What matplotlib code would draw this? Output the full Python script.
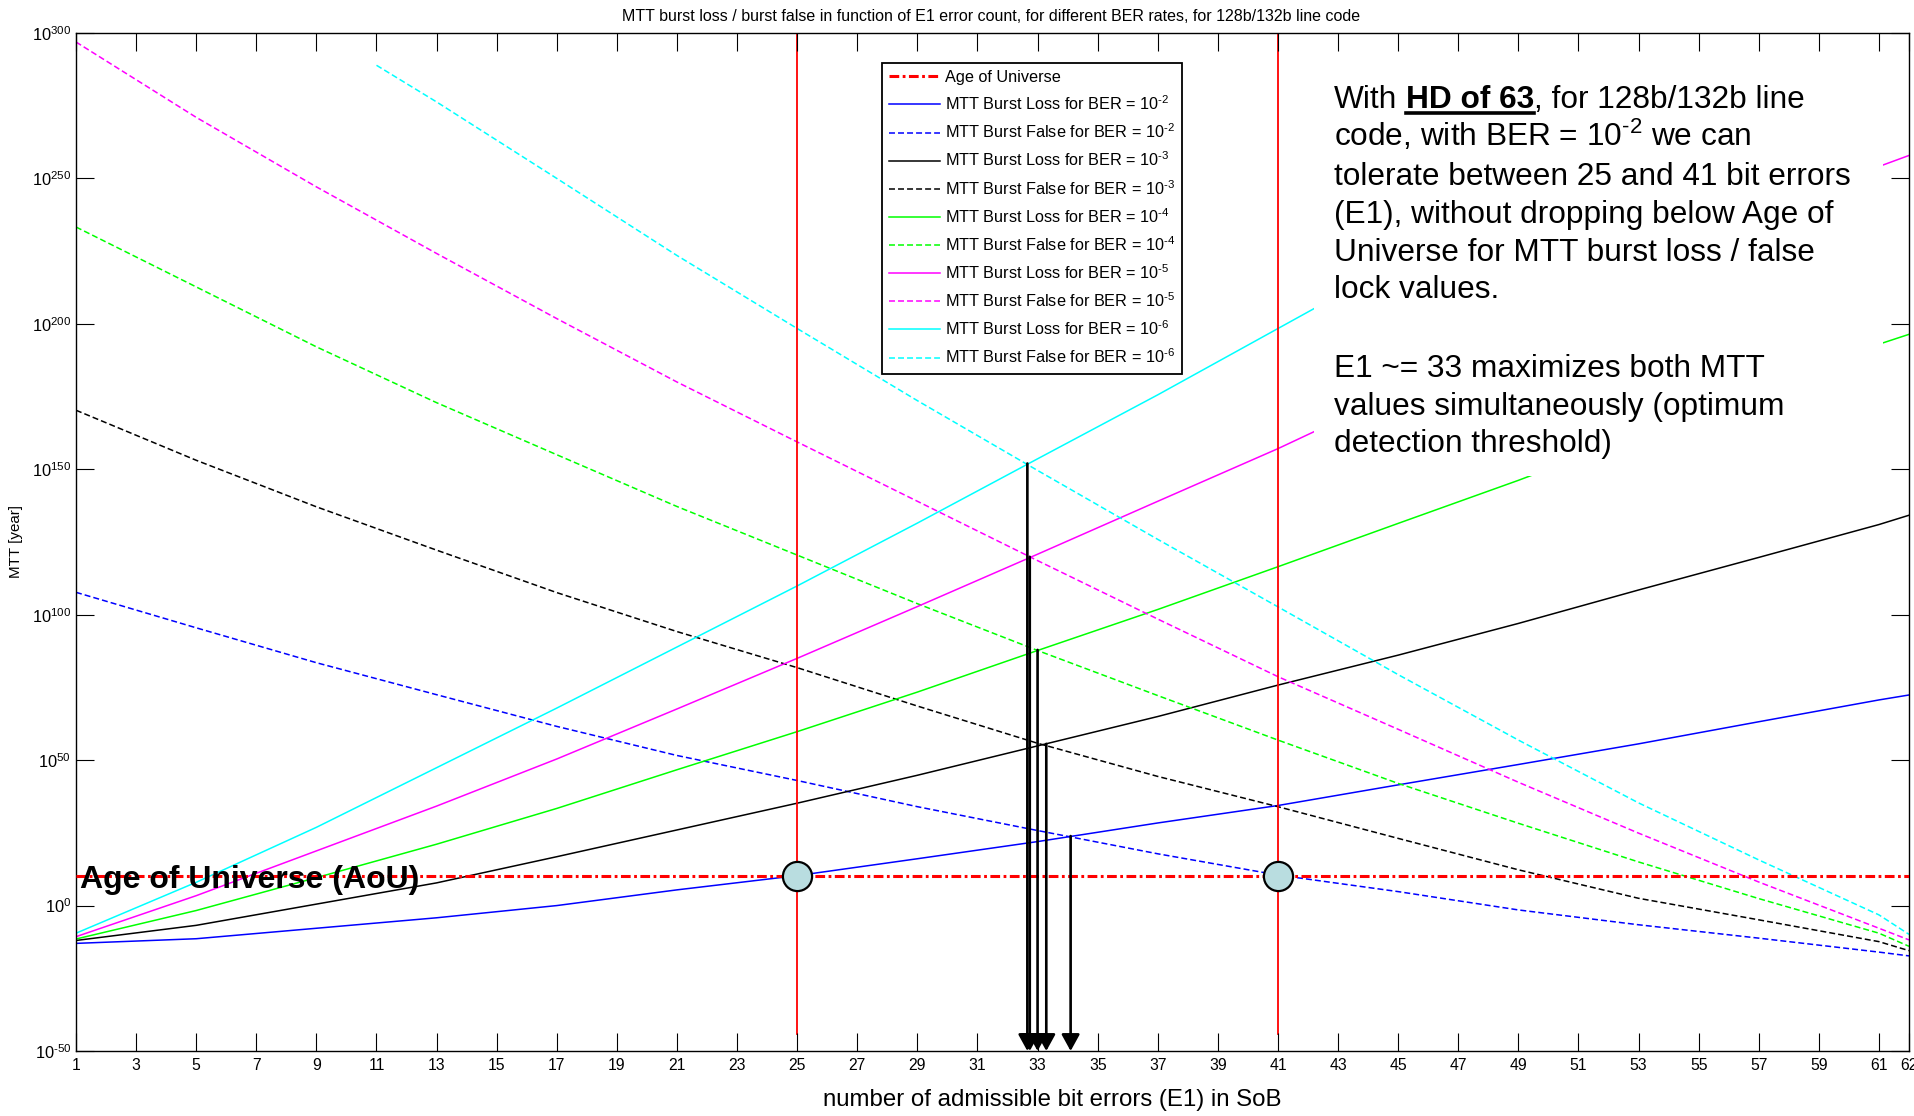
import numpy as np
import matplotlib
matplotlib.use('Agg')
import matplotlib.pyplot as plt
from matplotlib.patches import Rectangle
from matplotlib.lines import Line2D

plt.rcParams['font.family'] = ['Liberation Sans', 'DejaVu Sans']
plt.rcParams['mathtext.fontset'] = 'custom'
plt.rcParams['mathtext.rm'] = 'Liberation Sans'
plt.rcParams['mathtext.it'] = 'Liberation Sans:italic'
plt.rcParams['mathtext.bf'] = 'Liberation Sans:bold'
plt.rcParams['lines.scale_dashes'] = False

W, H = 1915, 1116

# exponents (log10 of MTT in years)
x = [1, 5, 9, 13, 17, 21, 25, 29, 33, 37, 41, 45, 49, 53, 57, 61, 62]
loss_2 = [-13.0, -11.4, -7.8, -4.2, 0.0, 5.4, 10.3, 16.1, 22.0, 28.4, 34.4, 41.5, 48.5, 55.6, 63.2, 70.7, 72.4]
false_2 = [107.7, 95.5, 83.5, 72.5, 61.6, 51.6, 43.0, 34.0, 25.8, 17.8, 10.5, 4.8, -1.5, -6.6, -11.2, -16.0, -17.3]
loss_3 = [-12.0, -6.8, 0.5, 7.8, 16.8, 26.0, 35.2, 44.8, 54.9, 65.0, 75.8, 86.1, 97.0, 108.5, 119.7, 131.0, 134.2]
false_3 = [170.3, 153.1, 137.1, 122.2, 107.6, 94.2, 81.8, 68.6, 55.8, 44.4, 34.0, 23.1, 12.3, 2.5, -4.9, -12.4, -15.5]
loss_4 = [-11.5, -1.7, 9.6, 21.1, 33.4, 46.7, 59.8, 73.4, 87.7, 101.8, 116.5, 131.4, 146.2, 161.7, 177.3, 193.0, 196.4]
false_4 = [233.3, 212.7, 192.1, 172.9, 155.0, 137.2, 120.5, 103.8, 87.7, 72.2, 56.9, 42.0, 28.3, 15.0, 2.4, -9.5, -14.0]
loss_5 = [-10.7, 3.4, 18.8, 34.2, 50.4, 67.6, 85.0, 102.8, 120.8, 139.0, 157.1, 176.5, 195.9, 215.3, 234.7, 254.1, 257.9]
false_5 = [296.9, 271.0, 247.1, 224.2, 201.8, 180.0, 159.4, 139.0, 118.6, 98.5, 78.7, 60.6, 42.4, 24.9, 8.1, -7.8, -11.8]
loss_6 = [-9.5, 8.0, 26.9, 47.4, 67.9, 88.9, 109.9, 131.5, 153.6, 175.6, 198.4, 221.2, 244.0, 266.8, 289.6, 305.0, np.nan]
x_false_6 = [11, 13, 17, 21, 25, 29, 33, 37, 41, 45, 49, 53, 57, 61, 62]
false_6 = [288.9, 276.3, 250.0, 223.5, 198.4, 173.6, 149.6, 125.9, 102.7, 79.4, 56.9, 35.3, 15.7, -3.2, -9.9]

age_of_universe = 1.38e10
bounds = [25, 41]
arrow_x = [32.66, 32.74, 33.0, 33.29, 34.10]
arrow_top = [152.0, 119.9, 87.9, 55.6, 23.9]

bers = ['-2', '-3', '-4', '-5', '-6']
colors = ['#0000ff', '#000000', '#00ff00', '#ff00ff', '#00ffff']
loss = [loss_2, loss_3, loss_4, loss_5, loss_6]
false = [(x, false_2), (x, false_3), (x, false_4), (x, false_5), (x_false_6, false_6)]

fig = plt.figure(figsize=(W / 100, H / 100), dpi=100)
ax = fig.add_axes([76 / W, 1 - 1051 / H, 1833 / W, 1018 / H])
ax.set_yscale('log')
ax.set_axisbelow(False)

ax.plot([1, 62], [age_of_universe, age_of_universe], color='#ff0000', lw=2.2,
        dashes=(7, 2.5, 2, 2.5), label='Age of Universe', zorder=3)
for b, c, lo, (xf, fa) in zip(bers, colors, loss, false):
    ax.plot(x, 10.0 ** np.array(lo), color=c, lw=1.1,
            label=r'MTT Burst Loss for BER = 10$^{\text{%s}}$' % b)
    ax.plot(xf, 10.0 ** np.array(fa), color=c, lw=1.1, dashes=(4.3, 2.2),
            label=r'MTT Burst False for BER = 10$^{\text{%s}}$' % b)

for b in bounds:
    ax.plot([b, b], [1e-44, 1e300], color='#ff0000', lw=1.3, zorder=2.2)
ax.plot(bounds, [age_of_universe] * 2, 'o', ms=21, mfc='#b9dde0', mec='black',
        mew=1.6, zorder=4)

for ax_x, top in zip(arrow_x, arrow_top):
    ax.annotate('', xy=(ax_x, 1e-50), xytext=(ax_x, 10.0 ** top),
                arrowprops=dict(arrowstyle='-|>,head_length=1.0,head_width=0.55',
                                mutation_scale=10, lw=1.9, color='black',
                                shrinkA=0, shrinkB=0),
                annotation_clip=False, zorder=4)

ax.annotate('Age of Universe (AoU)', xy=(1, age_of_universe), xytext=(3, -8.6),
            textcoords='offset points', fontsize=23, fontweight='bold',
            va='baseline', ha='left', zorder=6)

ax.set_xlim(1, 62)
ax.set_ylim(1e-50, 1e300)
xt = list(range(1, 62, 2)) + [62]
ax.set_xticks(xt)
ax.set_xticklabels([str(v) for v in xt])
yt = list(range(-50, 301, 50))
ax.set_yticks([10.0 ** v for v in yt])
ax.set_yticklabels([r'$10^{\text{%d}}$' % v for v in yt])
ax.minorticks_off()
ax.tick_params(direction='in', length=13, width=0.8, top=True, right=True)
ax.tick_params(axis='x', labelsize=11.3, pad=5)
ax.tick_params(axis='y', labelsize=11.8, pad=3.5)
for s in ax.spines.values():
    s.set_linewidth(1.0)

ax.set_xlabel('number of admissible bit errors (E1) in SoB', fontsize=17.3)
ax.xaxis.set_label_coords((1052 - 76) / 1833, (1051 - 1100) / 1018)
ax.xaxis.label.set_va('center')
ax.set_ylabel('MTT [year]', fontsize=10.9)
ax.yaxis.set_label_coords((16 - 76) / 1833, 0.5)
ax.yaxis.label.set_va('center')

fig.text(991 / W, 1 - 20.7 / H,
         'MTT burst loss / burst false in function of E1 error count, for different BER rates, for 128b/132b line code',
         fontsize=11.5, ha='center', va='baseline')

leg = ax.legend(loc='upper left', bbox_to_anchor=(882 / W, 1 - 62.7 / H),
                bbox_transform=fig.transFigure, borderaxespad=0, fontsize=11.7,
                handlelength=3.1, handletextpad=0.3, labelspacing=0.58,
                borderpad=0.45, fancybox=False, framealpha=1, edgecolor='black')
leg.get_frame().set_linewidth(1.3)
leg.set_zorder(6)

# white note box over the upper right of the plot (below the tick marks)
ax.add_patch(Rectangle((1314 / W, 1 - 476 / H), 569 / W, 442 / H,
                       transform=fig.transFigure, facecolor='white',
                       edgecolor='none', zorder=2.45, clip_on=False))

fs = 22.8
x0 = 1334
baselines = [108.3, 146.5, 184.8, 222.8, 260.8, 298.5, 376.7, 414.5, 452.0]
lines = [r'code, with BER = 10$^{\text{-2}}$ we can',
         'tolerate between 25 and 41 bit errors',
         '(E1), without dropping below Age of',
         'Universe for MTT burst loss / false',
         'lock values.',
         'E1 ~= 33 maximizes both MTT',
         'values simultaneously (optimum',
         'detection threshold)']

r = fig.canvas.get_renderer()
tmp1 = fig.text(0, 0, 'a a', fontsize=fs)
tmp2 = fig.text(0, 0, 'aa', fontsize=fs)
sp = tmp1.get_window_extent(r).width - tmp2.get_window_extent(r).width
tmp1.remove()
tmp2.remove()

y1 = 1 - baselines[0] / H
t = fig.text(x0 / W, y1, 'With', fontsize=fs, va='baseline')
xa = x0 + t.get_window_extent(r).width + sp
t = fig.text(xa / W, y1, 'HD of 63', fontsize=fs, fontweight='bold', va='baseline')
xb = xa + t.get_window_extent(r).width
fig.text(xb / W, y1, ', for 128b/132b line', fontsize=fs, va='baseline')
fig.add_artist(Line2D([xa / W, xb / W], [1 - (baselines[0] + 5) / H] * 2,
                      color='black', lw=2.6, transform=fig.transFigure))
for yb, s in zip(baselines[1:], lines):
    fig.text(x0 / W, 1 - yb / H, s, fontsize=fs, va='baseline')

fig.savefig('out.png', dpi=100)
